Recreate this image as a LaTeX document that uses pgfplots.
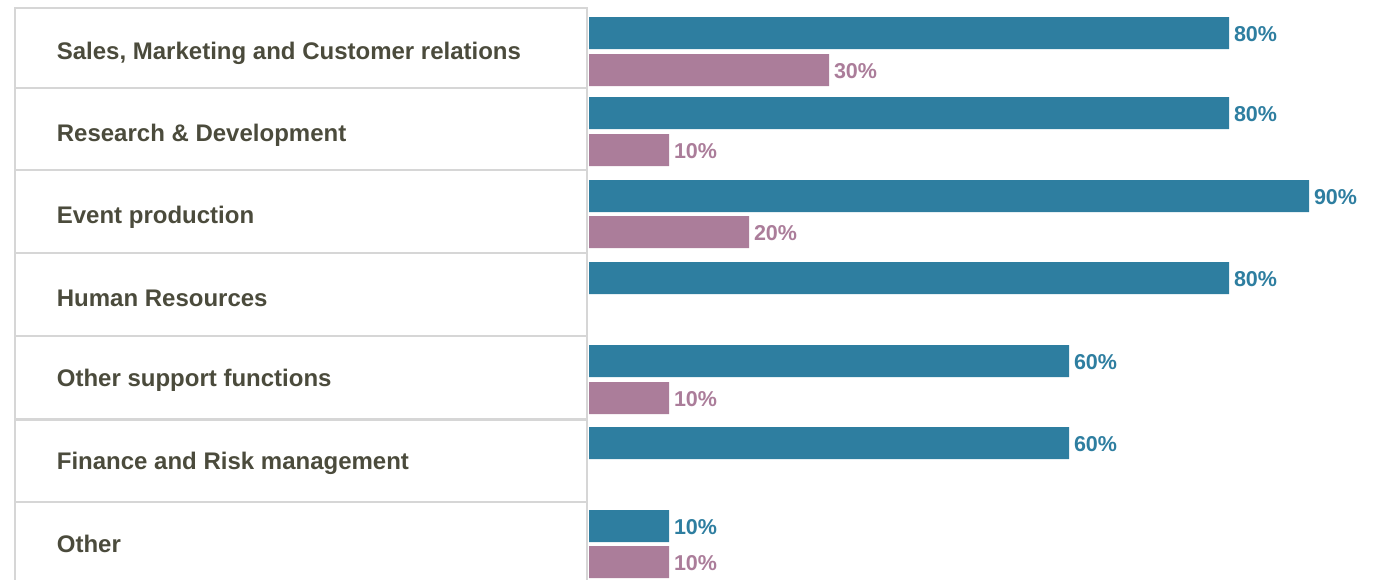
\documentclass[border=0pt]{standalone}
\usepackage{pgfplots}
\pgfplotsset{compat=1.18}
\usepackage{fontspec}
\setmainfont{Liberation Sans}
\definecolor{barblue}{RGB}{46,126,160}
\definecolor{barpink}{RGB}{171,125,154}
\definecolor{labtext}{RGB}{75,75,60}
\definecolor{boxgray}{RGB}{214,214,214}
\begin{document}
\begin{tikzpicture}
\begin{axis}[
  scale only axis,
  width=687pt, height=289.5pt,
  xmin=-73.625, xmax=98.125,
  ymin=0, ymax=579,
  y dir=reverse,
  xbar,
  bar width=16pt,
  axis line style={draw=none},
  tick style={draw=none},
  xtick=\empty,
  ytick={59.5,141,223.5,306.5,386,469.5,552},
  yticklabels={Sales{,} Marketing and Customer relations,Research \& Development,Event production,Human Resources,Other support functions,Finance and Risk management,Other},
  yticklabel style={anchor=base west, inner sep=0pt, xshift=32.5pt, font=\fontsize{12pt}{14pt}\selectfont\bfseries, text=labtext},
  /pgf/number format/assume math mode=true,
  point meta=x,
  nodes near coords={\pgfmathprintnumber{\pgfplotspointmeta}\%},
  nodes near coords style={anchor=west, inner sep=0pt, xshift=2.3pt, yshift=-0.5pt, font=\fontsize{10.75pt}{12pt}\selectfont\bfseries},
  clip=true,
]
% label boxes
\draw[boxgray, line width=1.3pt] (axis cs:-71.75,8) rectangle (axis cs:-0.25,88);
\draw[boxgray, line width=1.3pt] (axis cs:-71.75,88) rectangle (axis cs:-0.25,170);
\draw[boxgray, line width=1.3pt] (axis cs:-71.75,170) rectangle (axis cs:-0.25,253);
\draw[boxgray, line width=1.3pt] (axis cs:-71.75,253) rectangle (axis cs:-0.25,336);
\draw[boxgray, line width=1.3pt] (axis cs:-71.75,336) rectangle (axis cs:-0.25,419.5);
\draw[boxgray, line width=1.3pt] (axis cs:-71.75,419.5) rectangle (axis cs:-0.25,502);
\draw[boxgray, line width=1.3pt] (axis cs:-71.75,502) rectangle (axis cs:-0.25,586);
% blue series
\addplot[fill=barblue, draw=none, bar shift=0pt, nodes near coords style={text=barblue}]
  coordinates {(80,33) (80,113) (90,196) (80,278) (60,361) (60,443) (10,526)};
% pink series
\addplot[fill=barpink, draw=none, bar shift=0pt, nodes near coords style={text=barpink}]
  coordinates {(30,70) (10,150) (20,232) (10,398) (10,562)};
\end{axis}
\pgfresetboundingbox
\path[use as bounding box] (current axis.south west) rectangle (current axis.north east);
\end{tikzpicture}
\end{document}
